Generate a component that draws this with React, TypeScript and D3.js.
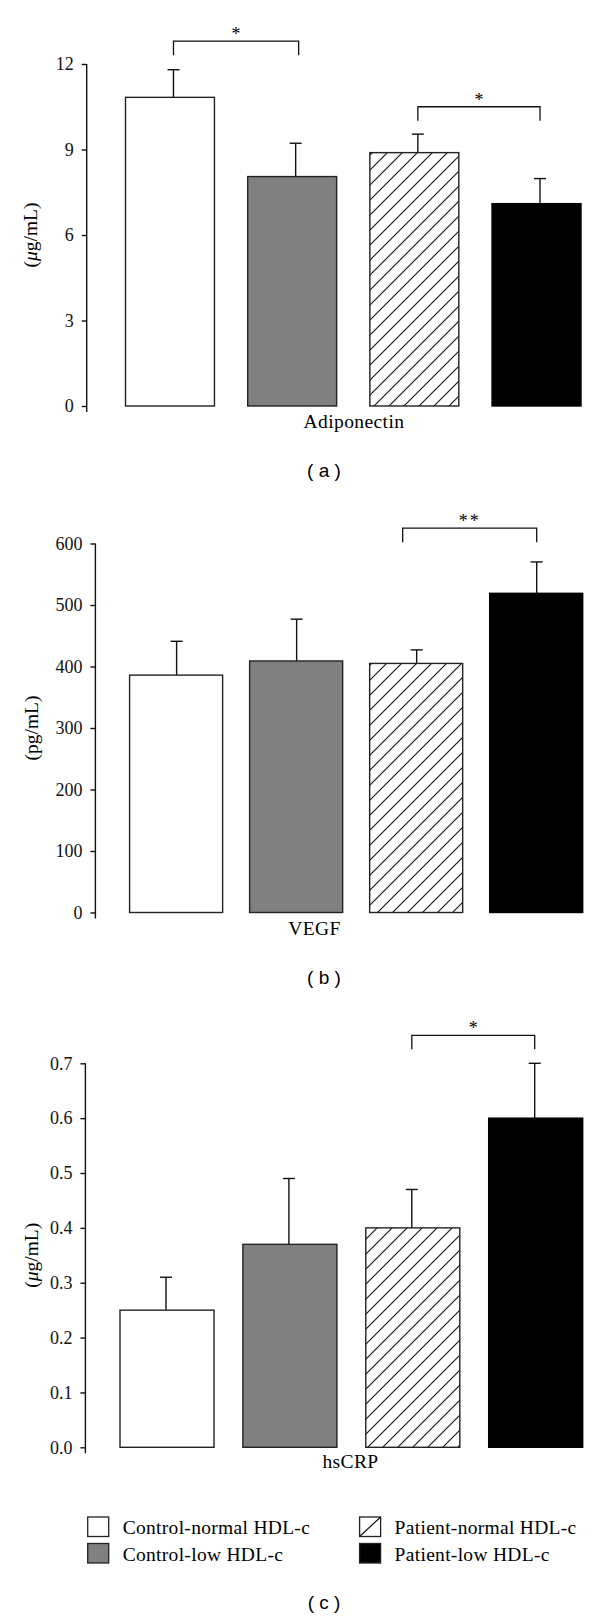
import React, { useEffect, useRef } from 'react'
import * as d3 from 'd3'

const groups = ['Control-normal HDL-c', 'Control-low HDL-c', 'Patient-normal HDL-c', 'Patient-low HDL-c']

const adiponectinMean = [10.83, 8.05, 8.89, 7.1]
const adiponectinSem = [0.97, 1.17, 0.65, 0.88]
const adiponectinTicks = [0, 3, 6, 9, 12]
const adiponectinSig = [
  { from: 0, to: 1, label: '*', at: 12.8 },
  { from: 2, to: 3, label: '*', at: 10.5 },
]

const vegfMean = [386, 409, 405, 519]
const vegfSem = [55, 68, 22, 51]
const vegfTicks = [0, 100, 200, 300, 400, 500, 600]
const vegfSig = [{ from: 2, to: 3, label: '**', at: 625 }]

const hscrpMean = [0.25, 0.37, 0.4, 0.6]
const hscrpSem = [0.06, 0.12, 0.07, 0.1]
const hscrpTicks = [0, 0.1, 0.2, 0.3, 0.4, 0.5, 0.6, 0.7]
const hscrpSig = [{ from: 2, to: 3, label: '*', at: 0.751 }]

const fills = ['#ffffff', '#808080', 'url(#hatch)', '#000000']
const SERIF = 'Liberation Serif, Times New Roman, serif'
const SANS = 'Liberation Sans, Arial, sans-serif'

const panels = [
  {
    name: 'Adiponectin', unit: 'μg', mean: adiponectinMean, sem: adiponectinSem, ticks: adiponectinTicks,
    fmt: d3.format('d'), sig: adiponectinSig, caption: 'a',
    lay: { axisX: 86.7, y0: 406, y1: 64, left: 125.5, right: 581, pad: 0.272, errDx: 3.5, sigDx: [[0, 3], [0, 0]], labelX: 354, labelY: 428, unitX: 37, capY: 477 },
  },
  {
    name: 'VEGF', unit: 'pg', mean: vegfMean, sem: vegfSem, ticks: vegfTicks,
    fmt: d3.format('d'), sig: vegfSig, caption: 'b',
    lay: { axisX: 95.4, y0: 912.5, y1: 543.5, left: 129.6, right: 582.7, pad: 0.225, errDx: 0.5, sigDx: [[-14, 0]], labelX: 314.5, labelY: 935, unitX: 38, capY: 984 },
  },
  {
    name: 'hsCRP', unit: 'μg', mean: hscrpMean, sem: hscrpSem, ticks: hscrpTicks,
    fmt: d3.format('.1f'), sig: hscrpSig, caption: 'c',
    lay: { axisX: 85.4, y0: 1447.3, y1: 1063.3, left: 120, right: 582.7, pad: 0.235, errDx: -1, sigDx: [[0, 0]], labelX: 350.5, labelY: 1468, unitX: 38, capY: 1609 },
  },
]

function Axis({ y, ticks, fmt, x }) {
  const ref = useRef(null)
  useEffect(() => {
    const g = d3.select(ref.current)
    g.call(d3.axisLeft(y).tickValues(ticks).tickFormat(fmt).tickSize(5).tickSizeOuter(0).tickPadding(8))
    g.attr('font-family', SERIF).attr('font-size', 18)
    g.select('.domain').remove()
    g.selectAll('line').attr('stroke', '#111').attr('stroke-width', 1.4)
    g.selectAll('text').attr('font-family', SERIF).attr('font-size', 18).attr('fill', '#111')
  }, [y, ticks, fmt])
  return <g ref={ref} transform={`translate(${x},0)`} />
}

function Panel({ p }) {
  const L = p.lay
  const y = d3.scaleLinear().domain([0, p.ticks[p.ticks.length - 1]]).range([L.y0, L.y1])
  const x = d3.scaleBand().domain(groups).range([L.left, L.right]).paddingInner(L.pad).paddingOuter(0)
  const bw = x.bandwidth()
  const ex = (i) => x(groups[i]) + bw / 2 + L.errDx
  return (
    <g>
      {p.mean.map((m, i) => (
        <g key={groups[i]}>
          <line x1={ex(i)} x2={ex(i)} y1={y(m)} y2={y(m + p.sem[i])} stroke="#111" strokeWidth={1.4} />
          <line x1={ex(i) - 6} x2={ex(i) + 6} y1={y(m + p.sem[i])} y2={y(m + p.sem[i])} stroke="#111" strokeWidth={1.4} />
          <rect x={x(groups[i])} y={y(m)} width={bw} height={y(0) - y(m)}
            fill={fills[i]} stroke={i === 3 ? '#000' : '#222'} strokeWidth={1.4} />
        </g>
      ))}
      <line x1={L.axisX} x2={L.axisX} y1={L.y1} y2={L.y0 + 6} stroke="#111" strokeWidth={1.4} />
      <Axis y={y} ticks={p.ticks} fmt={p.fmt} x={L.axisX} />
      {p.sig.map((s, k) => {
        const x0 = ex(s.from) + L.sigDx[k][0]
        const x1 = ex(s.to) + L.sigDx[k][1]
        const yt = y(s.at)
        return (
          <g key={k}>
            <path d={`M${x0},${yt + 14}V${yt}H${x1}V${yt + 14}`} fill="none" stroke="#111" strokeWidth={1.3} />
            <text x={(x0 + x1) / 2} y={yt - 1} textAnchor="middle" fontFamily={SERIF} fontSize={18}
              letterSpacing={s.label.length > 1 ? 2 : 0}>{s.label}</text>
          </g>
        )
      })}
      <text x={L.labelX} y={L.labelY} textAnchor="middle" fontFamily={SERIF} fontSize={19.5} letterSpacing={0.4}>{p.name}</text>
      <text transform={`translate(${L.unitX},${(L.y0 + L.y1) / 2}) rotate(-90)`} textAnchor="middle"
        fontFamily={SERIF} fontSize={19.5}>
        (
        {p.unit === 'μg' ? <tspan fontStyle="italic">μ</tspan> : 'p'}
        g/mL)
      </text>
      <text x={324} y={L.capY} textAnchor="middle" fontFamily={SANS} fontSize={19}>{`( ${p.caption} )`}</text>
    </g>
  )
}

function Legend() {
  const cols = [87.7, 359.6]
  const rows = [1517, 1543.5]
  return (
    <g>
      {groups.map((g, i) => {
        const bx = cols[Math.floor(i / 2)]
        const by = rows[i % 2]
        return (
          <g key={g}>
            <rect x={bx} y={by} width={21} height={19.5} fill={i === 2 ? '#fff' : fills[i]} stroke="#222" strokeWidth={1.3} />
            {i === 2 && <line x1={bx} y1={by + 19.5} x2={bx + 21} y2={by} stroke="#111" strokeWidth={1.2} />}
            <text x={bx + 35} y={by + 17} fontFamily={SERIF} fontSize={19.5} letterSpacing={0.3}>{g}</text>
          </g>
        )
      })}
    </g>
  )
}

export default function App() {
  return (
    <svg width={600} height={1617} style={{ position: 'absolute', left: 0, top: 0, background: '#fff' }}>
      <defs>
        <pattern id="hatch" patternUnits="userSpaceOnUse" width={15} height={15}>
          <path d="M-2,2L2,-2M0,15L15,0M13,17L17,13" stroke="#111" strokeWidth={1.1} />
        </pattern>
      </defs>
      <rect width={600} height={1617} fill="#fff" />
      {panels.map((p) => <Panel key={p.name} p={p} />)}
      <Legend />
    </svg>
  )
}
